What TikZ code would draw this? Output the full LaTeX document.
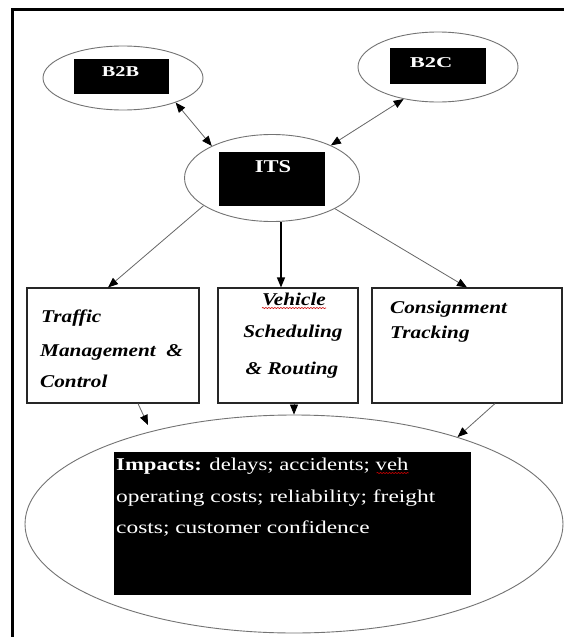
\documentclass[tikz,border=0pt]{standalone}
\usepackage{fontspec}
\setmainfont{Liberation Serif}
\usepackage{graphicx}
\usetikzlibrary{shapes.geometric,arrows.meta,calc,decorations.pathmorphing}
\begin{document}
\begin{tikzpicture}[x=1pt,y=-1pt,
 ell/.style={draw=black!55, line width=0.9pt, ellipse, inner sep=0pt},
 blk/.style={fill=black, draw=none, rectangle, inner sep=0pt},
 framebox/.style={draw=black!85, line width=1.1pt, rectangle, inner sep=0pt},
 con/.style={draw=black!60, line width=0.8pt, -{Triangle[length=10pt,width=8pt,color=black]}},
 dcon/.style={draw=black!60, line width=0.8pt, {Triangle[length=10pt,width=8pt,color=black]}-{Triangle[length=10pt,width=8pt,color=black]}},
 wl/.style={text=white, inner sep=0pt, anchor=base, font=\fontsize{15}{17}\selectfont\bfseries},
 bt/.style={inner sep=0pt, anchor=base west, font=\fontsize{18}{20}\selectfont\bfseries\itshape},
 impt/.style={inner sep=0pt, anchor=base west, text=white, font=\fontsize{18}{20}\selectfont},
 spell/.style={draw=red!80!black, line width=0.6pt, decorate, decoration={snake, amplitude=0.6pt, segment length=3pt}}
]
\useasboundingbox (0,0) rectangle (564,637);
\fill[white] (0,0) rectangle (564,637);
% frame
\draw[line width=3pt] (12.5,637) -- (12.5,9.5) -- (564,9.5);

% B2B
\node[ell, minimum width=160pt, minimum height=64pt] (b2b) at (123,78) {};
\node[blk, minimum width=95pt, minimum height=35pt] (b2bbox) at (121.5,76.5) {};
\node[wl] (b2btxt) at (120.5,76) {\scalebox{1.35}[1]{B2B}};
% B2C
\node[ell, minimum width=160pt, minimum height=70pt] (b2c) at (438,67) {};
\node[blk, minimum width=96pt, minimum height=36pt] (b2cbox) at (438,66) {};
\node[wl] (b2ctxt) at (431,67) {\scalebox{1.5}[1]{B2C}};
% ITS
\node[ell, minimum width=175pt, minimum height=87pt] (its) at (272,178) {};
\node[blk, minimum width=106pt, minimum height=54pt] (itsbox) at (272,179) {};
\node[wl, font=\fontsize{18}{20}\selectfont\bfseries] (itstxt) at (273,172) {\scalebox{1.25}[1]{ITS}};

% boxes
\node[framebox, minimum width=172pt, minimum height=115pt] (lbox) at (113,345.5) {};
\node[framebox, minimum width=140pt, minimum height=115pt] (mbox) at (288,345.5) {};
\node[framebox, minimum width=190pt, minimum height=115pt] (rbox) at (467,345.5) {};

\node[bt] (l1) at (41,322) {\scalebox{1.18}[1]{Traffic}};
\node[bt] (l2) at (40,356) {\scalebox{1.18}[1]{Management\ \ \&}};
\node[bt] (l3) at (40,387) {\scalebox{1.18}[1]{Control}};

\node[bt, anchor=base] (m1) at (294,305) {\scalebox{1.18}[1]{Vehicle}};
\node[bt, anchor=base] (m2) at (293,337) {\scalebox{1.18}[1]{Scheduling}};
\node[bt, anchor=base] (m3) at (292,374) {\scalebox{1.18}[1]{\& Routing}};
\draw[spell] ($(m1.base west)+(0,3)$) -- ($(m1.base east)+(0,3)$);

\node[bt] (r1) at (390,313) {\scalebox{1.18}[1]{Consignment}};
\node[bt] (r2) at (390,338) {\scalebox{1.18}[1]{Tracking}};

% impacts
\node[ell, minimum width=538pt, minimum height=218pt] (bell) at (294,524) {};
\node[blk, minimum width=357pt, minimum height=143pt] (bbox) at (292.5,523.5) {};
\node[impt] (i1) at (116,470) {\scalebox{1.26}[1]{\textbf{Impacts:} delays; accidents; veh}};
\node[impt] (i2) at (116,502) {\scalebox{1.3}[1]{operating costs; reliability; freight}};
\node[impt] (i3) at (116,533) {\scalebox{1.3}[1]{costs; customer confidence}};
\draw[spell] ($(i1.base east)+(-32,3)$) -- ($(i1.base east)+(0,3)$);

% connectors
\draw[dcon] (b2b.-25) -- (its.152);
\draw[dcon] (b2c.-137) -- (its.29);
\coordinate (ltop) at ($(lbox.north)+(-5,0)$);
\draw[con] (its.-158) -- (ltop);
\coordinate (mtop) at ($(mbox.north)+(-7,0)$);
\draw[con, draw=black, line width=1.3pt] (its.south -| mtop) -- (mtop);
\draw[con] (its.-26) -- (rbox.north);
\coordinate (lbot) at ($(lbox.south)+(25,0)$);
\coordinate (lend) at (148,425);
\draw[con] (lbot) -- (lend);
\draw[con] (bell.north |- mbox.south) -- (bell.north);
\coordinate (rbot) at ($(rbox.south)+(28,0)$);
\draw[con] (rbot) -- (bell.28.5);
\end{tikzpicture}
\end{document}
